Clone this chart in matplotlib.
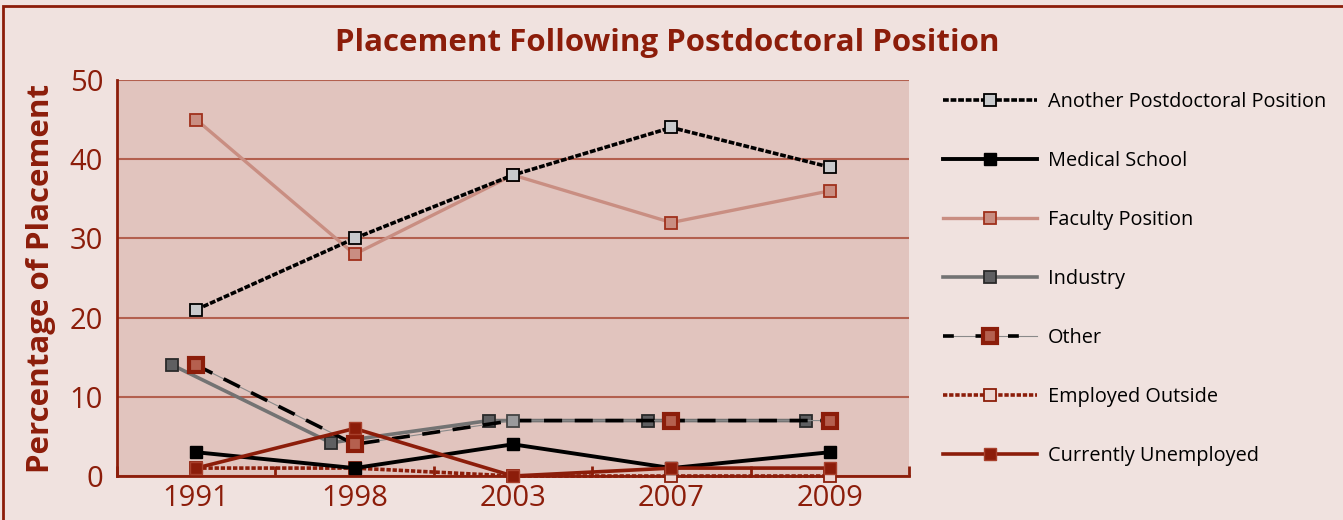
import matplotlib.pyplot as plt
import matplotlib.patches as mpatches
from matplotlib.lines import Line2D
import numpy as np

plt.rcParams['font.family'] = ['Open Sans', 'DejaVu Sans']

# data
years = ['1991', '1998', '2003', '2007', '2009']
another_postdoc = [21, 30, 38, 44, 39]
medical_school = [3, 1, 4, 1, 3]
faculty = [45, 28, 38, 32, 36]
industry = [14, 4.2, 7, 7, 7]
other = [14, 4, 7, 7, 7]
employed_outside = [1, 1, 0, 0, 0]
unemployed = [1, 6, 0, 1, 1]

RED = '#8C1D0A'
BG = '#F0E2DF'
FACE = '#E1C4BE'
GRID = '#B3604F'

fig = plt.figure(figsize=(13.43, 5.2), dpi=100, facecolor=BG)
ax = fig.add_axes([0.0871, 0.0846, 0.5897, 0.7616])
ax.set_facecolor(FACE)

x = np.arange(len(years))
ms = 9

# Another Postdoctoral Position
ax.plot(x, another_postdoc, color='black', lw=2.6, ls=(0, (1.6, 0.5)),
        marker='s', ms=ms, mfc='#C9CACC', mec='black', mew=1.3, zorder=5,
        clip_on=False)
# Faculty
ax.plot(x, faculty, color='#C98E82', lw=2.4, marker='s', ms=ms,
        mfc='#C98E82', mec='#A0301C', mew=1.3, zorder=4, clip_on=False)
# Industry (drawn slightly left of the category centre)
ax.plot(x - 0.15, industry, color='#737373', lw=2.6, marker='s', ms=ms,
        mfc='#5F5F61', mec='#2A2A2A', mew=1.3, zorder=4, clip_on=False)
# Other: thin grey line + black dashes
ax.plot(x, other, color='#8A8A8A', lw=0.8, zorder=5)
ax.plot(x, other, color='black', lw=2.6, ls=(0, (5, 3.5)), zorder=5)
ax.plot(x, other, ls='none', marker='s', ms=ms + 1.5, mfc='#B5604F', mec=RED,
        mew=3, zorder=6, markevery=[0, 1, 3, 4], clip_on=False)
ax.plot(x[2], other[2], ls='none', marker='s', ms=ms, mfc='#9A9A9C', mec='#444',
        mew=1.3, zorder=6, clip_on=False)
# Medical School
ax.plot(x, medical_school, color='black', lw=2.8, marker='s', ms=ms,
        mfc='black', mec='black', zorder=7, clip_on=False)
# Employed Outside
ax.plot(x, employed_outside, color=RED, lw=2.6, ls=(0, (1.2, 0.5)),
        marker='s', ms=ms, mfc='#EDD6D2', mec=RED, mew=1.3, zorder=6,
        clip_on=False)
# Currently Unemployed
ax.plot(x, unemployed, color=RED, lw=2.6, marker='s', ms=ms,
        mfc=RED, mec='#A8402C', mew=1, zorder=8, clip_on=False)

ax.set_xlim(-0.5, len(years) - 0.5)
ax.set_ylim(0, 50)
ax.set_yticks([0, 10, 20, 30, 40, 50])
ax.yaxis.grid(True, color=GRID, lw=1.5)
ax.set_axisbelow(True)
ax.tick_params(axis='y', length=0, pad=10, labelsize=21, labelcolor=RED)

ax.set_xticks(np.arange(len(years) + 1) - 0.5)
ax.set_xticklabels([])
ax.tick_params(axis='x', which='major', direction='in', length=7,
               width=2, color=RED)
ax.set_xticks(x, minor=True)
ax.set_xticklabels(years, minor=True)
ax.tick_params(axis='x', which='minor', length=0, pad=6, labelsize=21,
               labelcolor=RED)

for s in ['top', 'right']:
    ax.spines[s].set_visible(False)
for s in ['left', 'bottom']:
    ax.spines[s].set_color(RED)
    ax.spines[s].set_linewidth(2)

ax.set_ylabel('Percentage of Placement', fontsize=22.5, fontweight='bold',
              color=RED, labelpad=10)
fig.text(0.497, 0.918, 'Placement Following Postdoctoral Position',
         fontsize=22.5, fontweight='bold', color=RED, ha='center', va='center')

# figure border
fig.patches.append(mpatches.Rectangle((0.0022, -0.2), 1.2, 1.1885,
                                      transform=fig.transFigure, fill=False,
                                      ec=RED, lw=2))

# legend
def h(**kw):
    return Line2D([], [], **kw)

handles = [
    h(color='black', lw=2.6, ls=(0, (1.6, 0.5)), marker='s', ms=ms,
      mfc='#C9CACC', mec='black', mew=1.3),
    h(color='black', lw=2.8, marker='s', ms=ms, mfc='black', mec='black'),
    h(color='#C98E82', lw=2.4, marker='s', ms=ms, mfc='#C98E82',
      mec='#A0301C', mew=1.3),
    h(color='#737373', lw=2.6, marker='s', ms=ms, mfc='#5F5F61',
      mec='#2A2A2A', mew=1.3),
    (h(color='#8A8A8A', lw=0.8),
     h(color='black', lw=2.6, ls=(0, (3, 6))),
     h(ls='none', marker='s', ms=ms + 1.5, mfc='#B5604F', mec=RED, mew=3)),
    h(color=RED, lw=2.6, ls=(0, (1.2, 0.5)), marker='s', ms=ms,
      mfc='#EDD6D2', mec=RED, mew=1.3),
    h(color=RED, lw=2.6, marker='s', ms=ms, mfc=RED, mec='#A8402C', mew=1),
]
labels = ['Another Postdoctoral Position', 'Medical School', 'Faculty Position',
          'Industry', 'Other', 'Employed Outside', 'Currently Unemployed']
fig.legend(handles, labels, loc='upper left', bbox_to_anchor=(0.695, 0.842),
           frameon=False, fontsize=14.3, handlelength=4.7, handletextpad=0.55,
           labelspacing=1.96, borderpad=0)

fig.savefig('out.png', dpi=100, facecolor=BG)
